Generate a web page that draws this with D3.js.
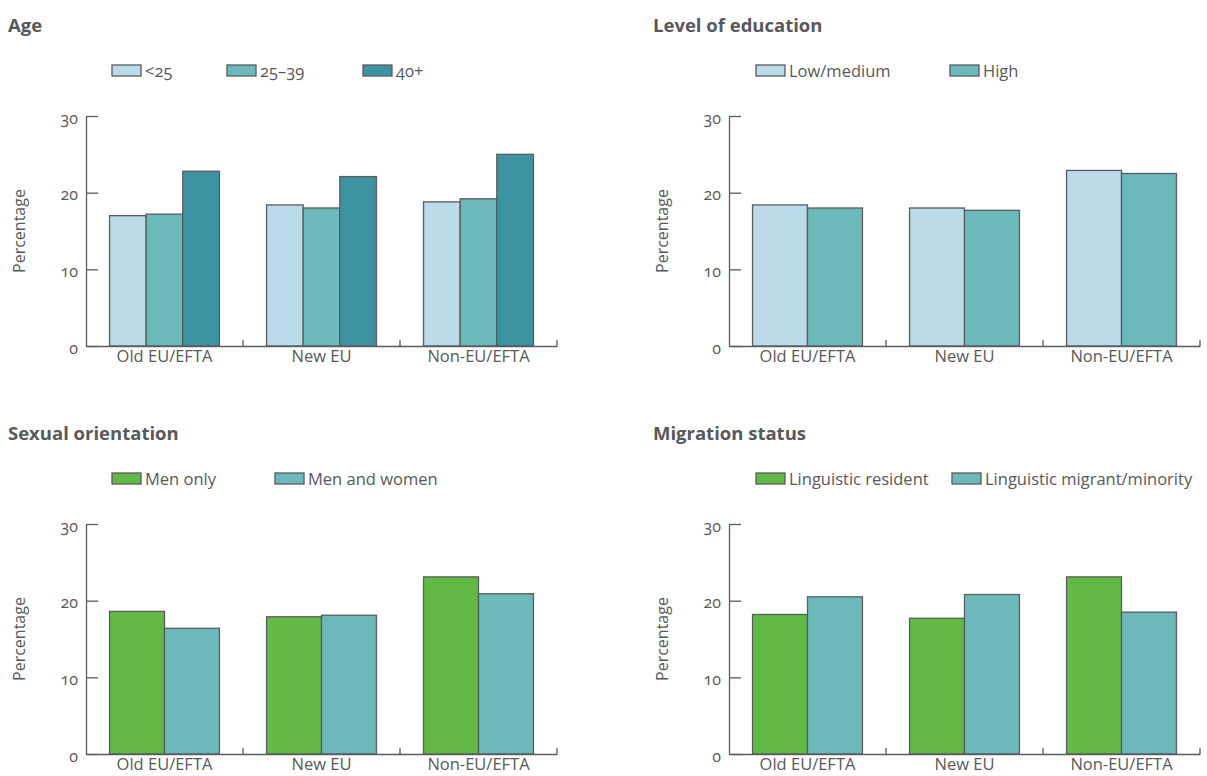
<!DOCTYPE html>
<html>
<head>
<meta charset="utf-8">
<script src="https://cdn.jsdelivr.net/npm/d3@7"></script>
<style>
  html, body { margin: 0; padding: 0; background: #fff; }
  svg { display: block; font-family: "Open Sans", "Noto Sans", sans-serif; }
  .num { font-variant-numeric: oldstyle-nums; font-feature-settings: "onum" 1; }
</style>
</head>
<body>
<svg id="chart" width="1207" height="776"></svg>
<script>
// ---- Data ----
const categories = ["Old EU/EFTA", "New EU", "Non-EU/EFTA"];
const yTicks = [0, 10, 20, 30];

const ageSeries = ["<25", "25–39", "40+"];
const ageUnder25 = [17.0, 18.4, 18.8];
const age25to39 = [17.2, 18.0, 19.2];
const age40plus = [22.8, 22.1, 25.0];

const eduSeries = ["Low/medium", "High"];
const eduLowMedium = [18.4, 18.0, 22.9];
const eduHigh = [18.0, 17.7, 22.5];

const sexSeries = ["Men only", "Men and women"];
const sexMenOnly = [18.6, 17.9, 23.1];
const sexMenAndWomen = [16.4, 18.1, 20.9];

const migSeries = ["Linguistic resident", "Linguistic migrant/minority"];
const migResident = [18.2, 17.7, 23.1];
const migMigrant = [20.5, 20.8, 18.5];

// ---- Styles ----
const LIGHT = "#bbdbea", TEAL = "#6cb9bc", DARK = "#3e93a3", GREEN = "#62b946";
const INK = "#58595b", STROKE = "#5a5b5d";

const panels = [
  { title: "Age", series: ageSeries, values: [ageUnder25, age25to39, age40plus],
    colors: [LIGHT, TEAL, DARK], ox: 0, oy: 0, legendX: [112, 227, 363] },
  { title: "Level of education", series: eduSeries, values: [eduLowMedium, eduHigh],
    colors: [LIGHT, TEAL], ox: 643, oy: 0, legendX: [113, 307] },
  { title: "Sexual orientation", series: sexSeries, values: [sexMenOnly, sexMenAndWomen],
    colors: [GREEN, TEAL], ox: 0, oy: 408, legendX: [112, 275] },
  { title: "Migration status", series: migSeries, values: [migResident, migMigrant],
    colors: [GREEN, TEAL], ox: 643, oy: 408, legendX: [113, 309] }
];

const svg = d3.select("#chart");
const plotLeft = 86, plotW = 471, plotTop = 116, plotH = 230;

panels.forEach((p, pi) => {
  const g = svg.append("g").attr("transform", `translate(${p.ox},${p.oy})`);

  // title
  g.append("text")
    .attr("x", pi % 2 === 0 ? 8 : 10).attr("y", 32)
    .attr("fill", INK).attr("font-weight", 700).attr("font-size", 18.5)
    .text(p.title);

  // legend
  const lg = g.append("g");
  p.series.forEach((s, i) => {
    const lx = p.legendX[i];
    lg.append("rect").attr("x", lx).attr("y", 65).attr("width", 29).attr("height", 11)
      .attr("fill", p.colors[i]).attr("stroke", STROKE).attr("stroke-width", 1.3);
    lg.append("text").attr("class", "num").attr("x", lx + 33).attr("y", 76.5)
      .attr("fill", INK).attr("font-size", 16.5).text(s);
  });

  const x0 = d3.scaleBand().domain(categories).range([plotLeft, plotLeft + plotW])
    .paddingInner(0).paddingOuter(0);
  const bw = x0.bandwidth();
  const x1 = d3.scaleBand().domain(p.series).range([0.15 * bw, 0.85 * bw]).padding(0);
  const y = d3.scaleLinear().domain([0, 30]).range([plotTop + plotH, plotTop]);

  // bars
  const groups = g.append("g").selectAll("g").data(categories).join("g")
    .attr("transform", c => `translate(${x0(c)},0)`);
  groups.selectAll("rect")
    .data((c, ci) => p.series.map((s, si) => ({ s, v: p.values[si][ci], color: p.colors[si] })))
    .join("rect")
    .attr("x", d => x1(d.s)).attr("width", x1.bandwidth())
    .attr("y", d => y(d.v)).attr("height", d => y(0) - y(d.v))
    .attr("fill", d => d.color).attr("stroke", STROKE).attr("stroke-width", 1.3);

  // y axis
  const ya = g.append("g").attr("transform", `translate(${plotLeft},0)`)
    .call(d3.axisLeft(y).tickValues(yTicks).tickSize(-12).tickSizeOuter(0).tickPadding(8));
  ya.select(".domain").attr("stroke", STROKE).attr("stroke-width", 1.3);
  ya.selectAll(".tick line").attr("stroke", STROKE).attr("stroke-width", 1.3);
  ya.selectAll(".tick text").attr("class", "num").attr("fill", INK)
    .attr("font-size", 16).attr("font-family", "Open Sans, sans-serif").attr("dy", "0.45em");

  // x axis
  const xa = g.append("g").attr("transform", `translate(0,${plotTop + plotH})`)
    .call(d3.axisBottom(x0).tickSize(0).tickSizeOuter(0).tickPadding(4));
  xa.select(".domain").attr("stroke", STROKE).attr("stroke-width", 1.3);
  xa.selectAll(".tick text").attr("fill", INK).attr("font-size", 16.5)
    .attr("font-family", "Open Sans, sans-serif").attr("dy", "0.71em");
  // category boundary ticks
  xa.append("g").selectAll("line").data(categories).join("line")
    .attr("x1", c => x0(c) + bw).attr("x2", c => x0(c) + bw)
    .attr("y1", 0).attr("y2", -6).attr("stroke", STROKE).attr("stroke-width", 1.3);

  // y label
  g.append("text")
    .attr("transform", `translate(25,${plotTop + plotH / 2}) rotate(-90)`)
    .attr("text-anchor", "middle").attr("fill", INK).attr("font-size", 16)
    .text("Percentage");
});
</script>
</body>
</html>
